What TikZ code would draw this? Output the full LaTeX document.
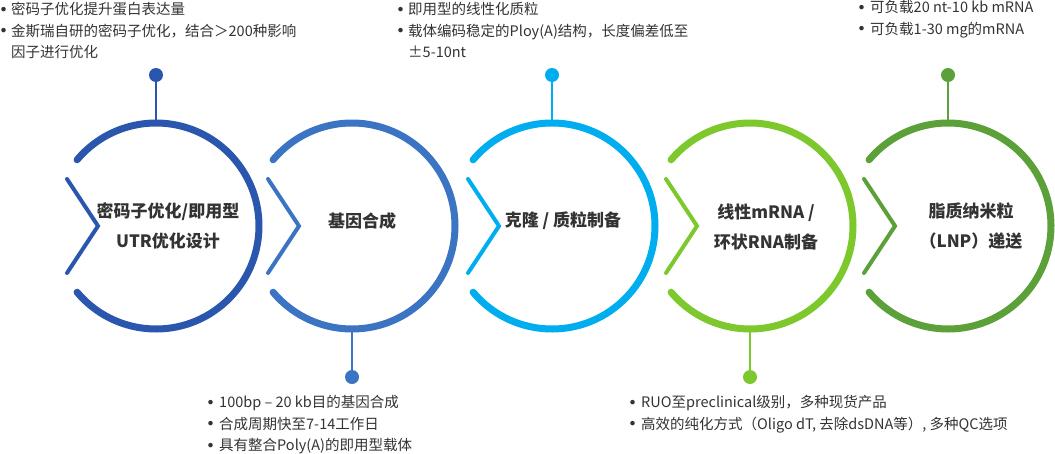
\documentclass[tikz,border=0pt]{standalone}
\usepackage{fontspec}
\setmainfont{Noto Sans CJK SC}
\usepackage{xcolor}
\usepackage{tikz}

\definecolor{stepA}{HTML}{2B56AD}
\definecolor{stepB}{HTML}{3A74C3}
\definecolor{stepC}{HTML}{00AEEF}
\definecolor{stepD}{HTML}{7DC82C}
\definecolor{stepE}{HTML}{5BA038}
\definecolor{txt}{HTML}{333333}

\newcommand{\bul}{\raisebox{3.4pt}{\fontsize{5}{5}\selectfont ●}}

\begin{document}
\begin{tikzpicture}[x=1pt, y=-1pt,
  ring/.style={line width=7pt, line cap=round},
  chev/.style={line width=4pt, line cap=round, line join=miter},
  stem/.style={line width=2pt},
  dot/.style={circle, inner sep=0pt, minimum size=14pt},
  hub/.style={circle, inner sep=0pt, minimum size=206pt},
  steptext/.style={align=center, text=txt, font=\fontsize{17}{30}\selectfont\bfseries},
  infotext/.style={anchor=north west, inner sep=0pt, text=txt, font=\fontsize{14.5}{21.5}\selectfont},
]
\useasboundingbox (0,0) rectangle (1055,453);

% the five steps
\node[hub] (c1) at (156,226) {};
\node[hub] (c2) at (352,226) {};
\node[hub] (c3) at (552,226) {};
\node[hub] (c4) at (750,226) {};
\node[hub] (c5) at (948,226) {};

\draw[ring, stepA] ([shift={(140:103)}]c1.center) arc[start angle=140, end angle=-140, radius=103];
\draw[ring, stepB] ([shift={(140:103)}]c2.center) arc[start angle=140, end angle=-140, radius=103];
\draw[ring, stepC] ([shift={(140:103)}]c3.center) arc[start angle=140, end angle=-140, radius=103];
\draw[ring, stepD] ([shift={(140:103)}]c4.center) arc[start angle=140, end angle=-140, radius=103];
\draw[ring, stepE] ([shift={(140:103)}]c5.center) arc[start angle=140, end angle=-140, radius=103];

\draw[chev, stepA] ([shift={(-89,-47)}]c1.center) -- ([shift={(-58,0)}]c1.center) -- ([shift={(-89,47)}]c1.center);
\draw[chev, stepB] ([shift={(-84,-47)}]c2.center) -- ([shift={(-53,0)}]c2.center) -- ([shift={(-84,47)}]c2.center);
\draw[chev, stepC] ([shift={(-84,-47)}]c3.center) -- ([shift={(-53,0)}]c3.center) -- ([shift={(-84,47)}]c3.center);
\draw[chev, stepD] ([shift={(-84,-47)}]c4.center) -- ([shift={(-53,0)}]c4.center) -- ([shift={(-84,47)}]c4.center);
\draw[chev, stepE] ([shift={(-84,-47)}]c5.center) -- ([shift={(-53,0)}]c5.center) -- ([shift={(-84,47)}]c5.center);

\node[steptext] (l1) at (168,226) {密码子优化/即用型\\UTR优化设计};
\node[steptext] (l2) at (362,221) {基因合成};
\node[steptext] (l3) at (563,221) {克隆 / 质粒制备};
\node[steptext] (l4) at (766,227) {线性mRNA /\\环状RNA制备};
\node[steptext] (l5) at (971,226) {脂质纳米粒\\（LNP）递送};

% pins
\node[dot, fill=stepA] (d1) at (156,75) {};
\node[dot, fill=stepB] (d2) at (352,377) {};
\node[dot, fill=stepC] (d3) at (552,75) {};
\node[dot, fill=stepD] (d4) at (750,377) {};
\node[dot, fill=stepE] (d5) at (948,75) {};

\draw[stem, stepA] (c1.north) -- (d1);
\draw[stem, stepB] (c2.south) -- (d2);
\draw[stem, stepC] (c3.north) -- (d3);
\draw[stem, stepD] (c4.south) -- (d4);
\draw[stem, stepE] (c5.north) -- (d5);

% notes
\node[infotext] (n1) at (1,-0.5) {\begin{tabular}{@{}p{10pt}@{}l@{}}
\bul & 密码子优化提升蛋白表达量\\
\bul & 金斯瑞自研的密码子优化，结合＞200种影响\\
 & 因子进行优化
\end{tabular}};
\node[infotext] (n3) at (398,-0.5) {\begin{tabular}{@{}p{10pt}@{}l@{}}
\bul & 即用型的线性化质粒\\
\bul & 载体编码稳定的Ploy(A)结构，长度偏差低至\\
 & ±5-10nt
\end{tabular}};
\node[infotext] (n5) at (859,-2.5) {\begin{tabular}{@{}p{11pt}@{}l@{}}
\bul & 可负载20 nt-10 kb mRNA\\
\bul & 可负载1-30 mg的mRNA
\end{tabular}};
\node[infotext] (n2) at (208,392.5) {\begin{tabular}{@{}p{11pt}@{}l@{}}
\bul & 100bp – 20 kb目的基因合成\\
\bul & 合成周期快至7-14工作日\\
\bul & 具有整合Poly(A)的即用型载体
\end{tabular}};
\node[infotext] (n4) at (630,392.5) {\begin{tabular}{@{}p{11pt}@{}l@{}}
\bul & RUO至preclinical级别，多种现货产品\\
\bul & 高效的纯化方式（Oligo dT, 去除dsDNA等）, 多种QC选项
\end{tabular}};

\end{tikzpicture}
\end{document}
